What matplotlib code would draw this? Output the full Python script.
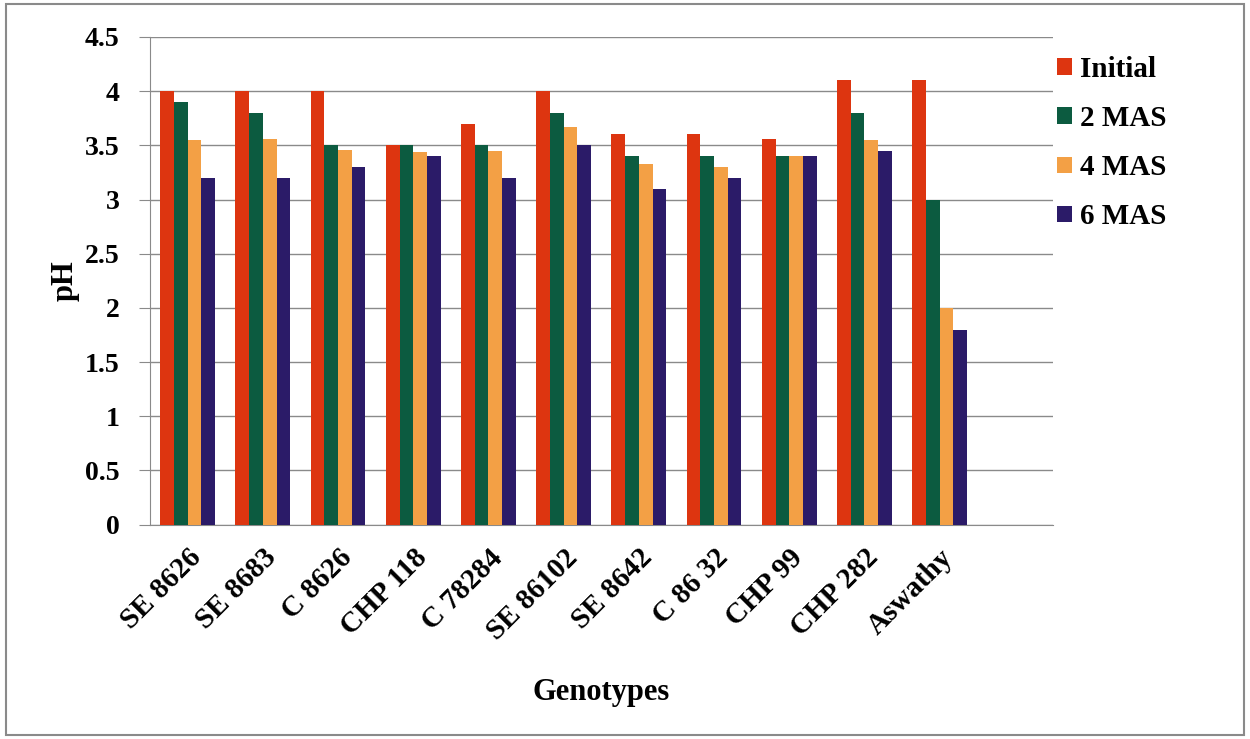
import numpy as np
import matplotlib.pyplot as plt
from matplotlib.patches import Rectangle

genotypes = ['SE 8626', 'SE 8683', 'C 8626', 'CHP 118', 'C 78284', 'SE 86102',
             'SE 8642', 'C 86 32', 'CHP 99', 'CHP 282', 'Aswathy']
series = ['Initial', '2 MAS', '4 MAS', '6 MAS']
initial = [4.0, 4.0, 4.0, 3.5, 3.7, 4.0, 3.6, 3.6, 3.56, 4.1, 4.1]
mas2 = [3.9, 3.8, 3.5, 3.5, 3.5, 3.8, 3.4, 3.4, 3.4, 3.8, 3.0]
mas4 = [3.55, 3.56, 3.46, 3.44, 3.45, 3.67, 3.33, 3.3, 3.4, 3.55, 2.0]
mas6 = [3.2, 3.2, 3.3, 3.4, 3.2, 3.5, 3.1, 3.2, 3.4, 3.45, 1.8]
colors = ['#DD3510', '#0C5B40', '#F3A045', '#2B1B68']

plt.rcParams['font.family'] = ['Liberation Serif', 'DejaVu Serif']
plt.rcParams['font.weight'] = 'bold'

fig = plt.figure(figsize=(12.5, 7.39), dpi=100)
ax = fig.add_axes([0.12, 0.29, 0.722, 0.66])

x = np.arange(len(genotypes))
w = 0.182
for i, (vals, name) in enumerate(zip([initial, mas2, mas4, mas6], series)):
    ax.bar(x + (i - 1.5) * w, vals, w, color=colors[i], label=name, zorder=3)

# one empty slot kept on the right
ax.set_xlim(-0.5, len(genotypes) + 0.5)
ax.set_ylim(0, 4.5)
ax.set_yticks(np.arange(0, 4.51, 0.5))
ax.set_yticklabels(['0', '0.5', '1', '1.5', '2', '2.5', '3', '3.5', '4', '4.5'],
                   fontsize=20, fontweight='bold')
ax.yaxis.grid(True, color='#8a8a8a', linewidth=1.0, zorder=0)
ax.set_xticks(x)
ax.set_xticklabels(genotypes, rotation=45, ha='right', rotation_mode='anchor',
                   fontsize=21, fontweight='bold')
ax.tick_params(axis='x', length=0, pad=14)
ax.tick_params(axis='y', length=8, color='#8a8a8a', pad=14)
for s in ['top', 'right']:
    ax.spines[s].set_visible(False)
ax.spines['left'].set_color('#8a8a8a')
ax.spines['bottom'].set_color('#8a8a8a')
ax.set_ylabel('pH', fontsize=22, fontweight='bold', labelpad=4)
ax.set_xlabel('Genotypes', fontsize=22, fontweight='bold', labelpad=24)

ax.legend(loc='upper left', bbox_to_anchor=(0.992, 0.985), frameon=False,
          fontsize=21, handlelength=0.5, handleheight=0.5, handletextpad=0.3,
          labelspacing=0.76, borderaxespad=0.0)

# outer chart border
fig.patches.append(Rectangle((0.005, 0.006), 0.99, 0.988, transform=fig.transFigure,
                             fill=False, edgecolor='#8a8a8a', linewidth=1.5))

fig.savefig('out.png', dpi=100)
